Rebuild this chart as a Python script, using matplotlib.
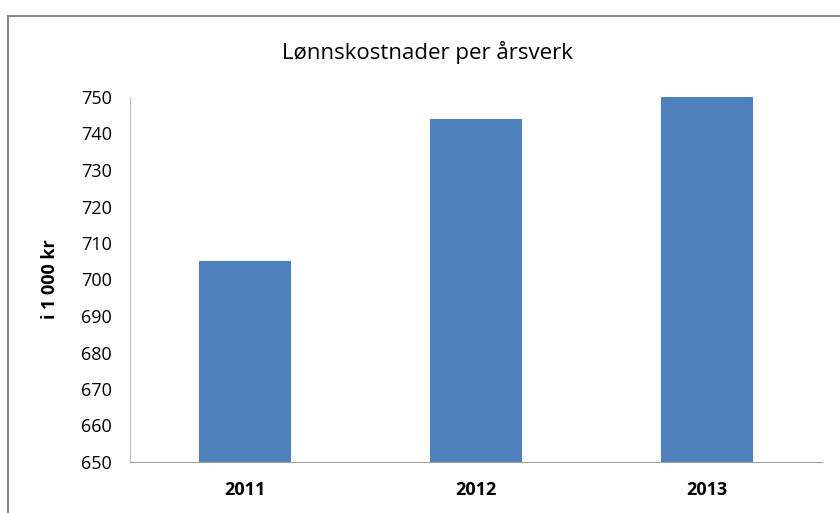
import matplotlib
matplotlib.use("Agg")
import matplotlib.pyplot as plt
from matplotlib.patches import Rectangle

years = ["2011", "2012", "2013"]
values = [705, 744, 750]
yticks = list(range(650, 751, 10))

plt.rcParams['font.family'] = ['Open Sans', 'DejaVu Sans']

fig = plt.figure(figsize=(8.4, 5.13), dpi=100)
ax = fig.add_axes([130/840, 51/513, 692/840, 365/513])

x = list(range(len(years)))
ax.bar(x, values, width=0.4, color="#4F81BD", zorder=2)
ax.set_xlim(-0.5, 2.5)
ax.set_ylim(650, 750)
ax.set_yticks(yticks)
ax.set_yticklabels([str(t) for t in yticks], fontsize=13)
ax.set_xticks(x)
ax.set_xticklabels(years, fontsize=13, fontweight="bold")
ax.tick_params(axis="y", length=0, pad=13)
ax.tick_params(axis="x", length=0, pad=14)
for s in ["top", "right"]:
    ax.spines[s].set_visible(False)
ax.spines["left"].set_color("#BFBFBF")
ax.spines["bottom"].set_color("#A0A0A0")
ax.set_ylabel("i 1 000 kr", fontsize=13, fontweight="bold", labelpad=16)

fig.text(427/840, 1 - 52/513, "Lønnskostnader per årsverk", fontsize=16,
         ha="center", va="center")

fig.patches.append(Rectangle((8/840, -0.05), 1.0, 0.05 + (513 - 16)/513,
                             transform=fig.transFigure, fill=False,
                             edgecolor="#888888", linewidth=1.5))

fig.savefig("out.png", dpi=100)
